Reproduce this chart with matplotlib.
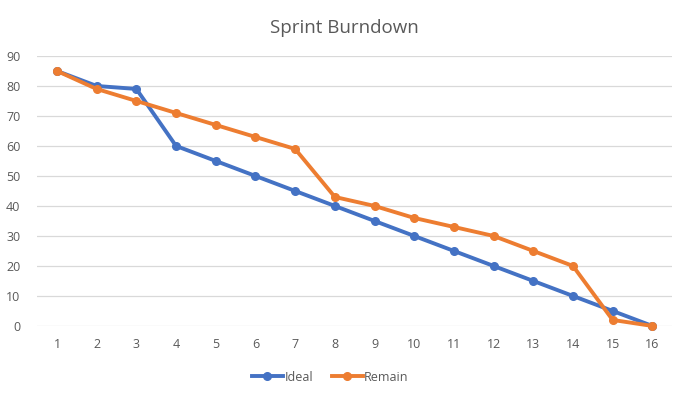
import matplotlib
matplotlib.use("Agg")
import matplotlib.pyplot as plt

days = list(range(1, 17))
ideal = [85, 80, 79, 60, 55, 50, 45, 40, 35, 30, 25, 20, 15, 10, 5, 0]
remain = [85, 79, 75, 71, 67, 63, 59, 43, 40, 36, 33, 30, 25, 20, 2, 0]
yticks = [0, 10, 20, 30, 40, 50, 60, 70, 80, 90]

plt.rcParams['font.family'] = ['Open Sans', 'DejaVu Sans']
fig = plt.figure(figsize=(6.88, 3.97), dpi=100)
ax = fig.add_axes([0.054, 0.179, 0.923, 0.680])

ax.plot(days, ideal, color='#4472C4', lw=2.8, marker='o', ms=5.5, label='Ideal', zorder=3)
ax.plot(days, remain, color='#ED7D31', lw=2.8, marker='o', ms=5.5, label='Remain', zorder=4)

ax.set_xlim(0.5, 16.5)
ax.set_ylim(0, 90)
ax.set_yticks(yticks)
ax.set_xticks(days)
ax.grid(axis='y', color='#D9D9D9', lw=0.9)
ax.set_axisbelow(True)
for s in ax.spines.values():
    s.set_visible(False)
ax.tick_params(length=0, labelsize=9, labelcolor='#595959')
ax.tick_params(axis='y', pad=12)
ax.tick_params(axis='x', pad=9)
for l in ax.get_lines():
    l.set_clip_on(False)

fig.text(0.5, 0.93, 'Sprint Burndown', ha='center', va='center', fontsize=13.5, color='#595959')
leg = fig.legend(loc='center', bbox_to_anchor=(0.48, 0.05), ncol=2, frameon=False,
                 fontsize=9, handlelength=2.5, columnspacing=1.5, handletextpad=0.1)
for t in leg.get_texts():
    t.set_color('#595959')

fig.savefig('out.png', dpi=100)
